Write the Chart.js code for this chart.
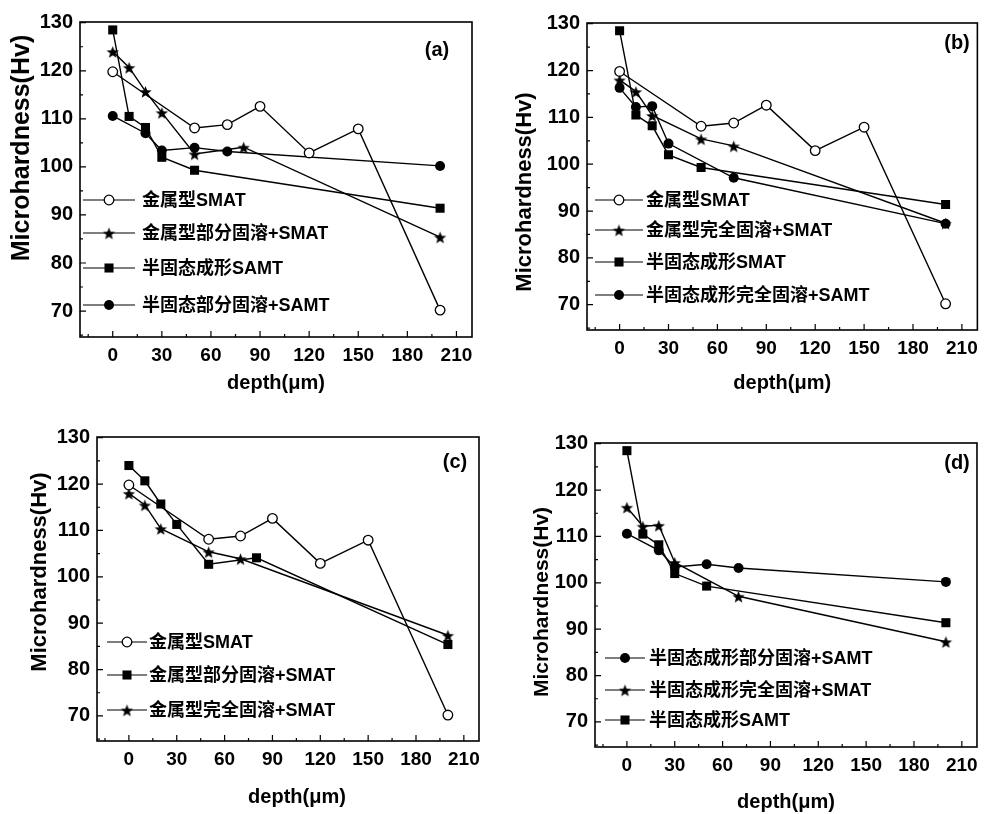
<!DOCTYPE html>
<html>
<head>
<meta charset="utf-8">
<script src="https://cdn.jsdelivr.net/npm/chart.js@4.4.1/dist/chart.umd.min.js"></script>
<style>
  body { margin: 0; background: #fff; }
  .panel { position: absolute; }
</style>
</head>
<body>
<div class="panel" style="left:0;top:0"><canvas id="chartA" width="490" height="410"></canvas></div>
<div class="panel" style="left:490px;top:0"><canvas id="chartB" width="495" height="410"></canvas></div>
<div class="panel" style="left:0;top:410px"><canvas id="chartC" width="490" height="404"></canvas></div>
<div class="panel" style="left:490px;top:410px"><canvas id="chartD" width="495" height="404"></canvas></div>
<script>
// depth (um) and microhardness (Hv) series
var depthSMAT = [0, 50, 70, 90, 120, 150, 200];
var hvSMAT = [119.8, 108.1, 108.8, 112.6, 102.9, 107.9, 70.2];

var depthPartSMAT = [0, 10, 20, 30, 50, 80, 200];
var hvPartSMAT = [124.0, 120.7, 115.7, 111.3, 102.7, 104.1, 85.4];

var depthFullSMAT = [0, 10, 20, 50, 70, 200];
var hvFullSMAT = [118.0, 115.5, 110.4, 105.4, 103.9, 87.4];

var depthSemi = [0, 10, 20, 30, 50, 200];
var hvSemi = [128.5, 110.5, 108.2, 102.0, 99.3, 91.4];

var depthSemiPart = [0, 20, 30, 50, 70, 200];
var hvSemiPart = [110.6, 107.0, 103.4, 104.0, 103.2, 100.2];

var depthSemiFull = [0, 10, 20, 30, 70, 200];
var hvSemiFull = [116.3, 112.2, 112.4, 104.4, 97.1, 87.3];

var xTickLabels = [0, 30, 60, 90, 120, 150, 180, 210];
var yTickLabels = [70, 80, 90, 100, 110, 120, 130];

var FONT = '"Liberation Sans", "Noto Sans CJK SC", sans-serif';

function makeStar(r) {
    var c = document.createElement('canvas');
    var s = Math.ceil(r * 2) + 2;
    c.width = s; c.height = s;
    var g = c.getContext('2d');
    g.beginPath();
    for (var i = 0; i < 10; i++) {
        var rad = i % 2 ? r * 0.42 : r;
        var a = -Math.PI / 2 + i * Math.PI / 5;
        g.lineTo(s / 2 + rad * Math.cos(a), s / 2 + 1 + rad * Math.sin(a));
    }
    g.closePath();
    g.fillStyle = '#000';
    g.fill();
    return c;
}
var starImg = makeStar(6.5);

var markers = {
    open: {pointStyle: 'circle', pointRadius: 4.8, pointBackgroundColor: '#fff', pointBorderWidth: 1.3},
    dot: {pointStyle: 'circle', pointRadius: 5, pointBackgroundColor: '#000', pointBorderWidth: 0},
    square: {pointStyle: 'rect', pointRadius: 6.4, pointBackgroundColor: '#000', pointBorderWidth: 0},
    star: {pointStyle: starImg, pointRadius: 6, pointBackgroundColor: '#000', pointBorderWidth: 0}
};

function series(label, xs, ys, mark) {
    var m = markers[mark];
    var pts = xs.map(function (d, i) { return {x: d, y: ys[i]}; });
    return Object.assign({
        label: label,
        data: pts,
        borderColor: '#000',
        pointBorderColor: '#000',
        borderWidth: 1.4,
        tension: 0,
        fill: false
    }, m);
}

// frame, inward ticks, titles and in-plot legend
var decorPlugin = {
    id: 'decor',
    afterDraw: function (chart, args, o) {
        var ctx = chart.ctx, a = chart.chartArea;
        var xs = chart.scales.x, ys = chart.scales.y;
        ctx.save();
        ctx.strokeStyle = '#000';
        ctx.lineWidth = 1.6;
        ctx.strokeRect(a.left, a.top, a.right - a.left, a.bottom - a.top);
        ctx.lineWidth = 1.2;
        ctx.beginPath();
        xs.ticks.forEach(function (t) {
            if (t.value % 15 !== 0) return;
            var px = xs.getPixelForValue(t.value);
            var len = t.value % 30 === 0 ? 6 : 3;
            ctx.moveTo(px, a.bottom); ctx.lineTo(px, a.bottom - len);
        });
        ys.ticks.forEach(function (t) {
            if (t.value % 5 !== 0) return;
            var py = ys.getPixelForValue(t.value);
            var len = t.value % 10 === 0 ? 6 : 3;
            ctx.moveTo(a.left, py); ctx.lineTo(a.left + len, py);
        });
        ctx.stroke();

        ctx.fillStyle = '#000';
        ctx.textAlign = 'center';
        ctx.textBaseline = 'middle';
        ctx.font = 'bold 20px ' + FONT;
        ctx.fillText(o.tag, o.tagX, o.tagY);
        ctx.fillText('depth(\u03bcm)', o.xTitleX || (a.left + a.right) / 2, o.xTitleY);
        ctx.save();
        ctx.translate(o.yTitleX, o.yTitleY);
        ctx.rotate(-Math.PI / 2);
        ctx.font = 'bold ' + o.yTitleSize + 'px ' + FONT;
        ctx.fillText('Microhardness(Hv)', 0, 0);
        ctx.restore();

        // legend rows
        var L = o.legend;
        ctx.textAlign = 'left';
        ctx.font = 'bold 18px ' + FONT;
        chart.data.datasets.forEach(function (ds, i) {
            var y = L.rows[i];
            ctx.strokeStyle = '#000';
            ctx.lineWidth = 1.2;
            ctx.beginPath();
            ctx.moveTo(L.x0, y); ctx.lineTo(L.x0 + L.w, y);
            ctx.stroke();
            ctx.fillStyle = ds.pointBackgroundColor;
            ctx.strokeStyle = '#000';
            ctx.lineWidth = ds.pointBorderWidth;
            Chart.helpers.drawPoint(ctx, {
                pointStyle: ds.pointStyle,
                radius: ds.pointRadius,
                borderWidth: ds.pointBorderWidth,
                rotation: 0
            }, L.x0 + L.w / 2, y);
            ctx.fillStyle = '#000';
            ctx.fillText(ds.label, L.x0 + L.w + L.gap, y + 1);
        });
        ctx.restore();
    }
};

function buildPanel(id, datasets, box, decor) {
    var ctx = document.getElementById(id);
    var config = {
        type: 'line',
        data: {datasets: datasets},
        options: {
            responsive: false,
            animation: false,
            devicePixelRatio: 1,
            layout: {padding: {top: box.top, right: box.right, left: 0, bottom: 0}},
            plugins: {legend: {display: false}, tooltip: {enabled: false}, decor: decor},
            scales: {
                x: {
                    type: 'linear', min: -20, max: 219.5,
                    grid: {display: false, drawTicks: false},
                    border: {display: false},
                    afterFit: function (s) { s.height = box.xh; },
                    ticks: {
                        stepSize: 15, includeBounds: false, autoSkip: false, maxRotation: 0,
                        padding: 7, color: '#000',
                        font: {family: FONT, size: 19, weight: 'bold'},
                        callback: function (v) { return xTickLabels.indexOf(v) >= 0 ? String(v) : ''; }
                    }
                },
                y: {
                    type: 'linear', min: 64.6, max: 130.15,
                    grid: {display: false, drawTicks: false},
                    border: {display: false},
                    afterFit: function (s) { s.width = box.yw; },
                    ticks: {
                        stepSize: 5, includeBounds: false, autoSkip: false,
                        padding: 7, color: '#000',
                        font: {family: FONT, size: 20, weight: 'bold'},
                        callback: function (v) { return yTickLabels.indexOf(v) >= 0 ? String(v) : ''; }
                    }
                }
            }
        },
        plugins: [decorPlugin]
    };
    return new Chart(ctx, config);
}

buildPanel('chartA', [
    series('金属型SMAT', depthSMAT, hvSMAT, 'open'),
    series('金属型部分固溶+SMAT', depthPartSMAT, hvPartSMAT, 'star'),
    series('半固态成形SAMT', depthSemi, hvSemi, 'square'),
    series('半固态部分固溶+SAMT', depthSemiPart, hvSemiPart, 'dot')
], {top: 22, right: 18, yw: 80, xh: 73}, {
    tag: '(a)', tagX: 437, tagY: 50,
    xTitleY: 383, yTitleX: 22, yTitleY: 148, yTitleSize: 25,
    legend: {x0: 83, w: 52, gap: 7, rows: [200, 233, 268, 305]}
});

buildPanel('chartB', [
    series('金属型SMAT', depthSMAT, hvSMAT, 'open'),
    series('金属型完全固溶+SMAT', depthFullSMAT, hvFullSMAT, 'star'),
    series('半固态成形SMAT', depthSemi, hvSemi, 'square'),
    series('半固态成形完全固溶+SAMT', depthSemiFull, hvSemiFull, 'dot')
], {top: 23, right: 5, yw: 97, xh: 80}, {
    tag: '(b)', tagX: 467, tagY: 43,
    xTitleY: 383, yTitleX: 35, yTitleY: 192, yTitleSize: 22,
    legend: {x0: 105, w: 48, gap: 3, rows: [200, 230, 262, 295]}
});

buildPanel('chartC', [
    series('金属型SMAT', depthSMAT, hvSMAT, 'open'),
    series('金属型部分固溶+SMAT', depthPartSMAT, hvPartSMAT, 'square'),
    series('金属型完全固溶+SMAT', depthFullSMAT, hvFullSMAT, 'star')
], {top: 27, right: 11, yw: 97, xh: 73}, {
    tag: '(c)', tagX: 455, tagY: 52,
    xTitleX: 297, xTitleY: 387, yTitleX: 40, yTitleY: 162, yTitleSize: 22,
    legend: {x0: 107, w: 40, gap: 2, rows: [232, 265, 300]}
});

buildPanel('chartD', [
    series('半固态成形部分固溶+SAMT', depthSemiPart, hvSemiPart, 'dot'),
    series('半固态成形完全固溶+SMAT', depthSemiFull, hvSemiFull, 'star'),
    series('半固态成形SAMT', depthSemi, hvSemi, 'square')
], {top: 33, right: 8, yw: 105, xh: 67}, {
    tag: '(d)', tagX: 467, tagY: 53,
    xTitleY: 392, yTitleX: 52, yTitleY: 192, yTitleSize: 21,
    legend: {x0: 115, w: 40, gap: 4, rows: [248, 280, 310]}
});
</script>
</body>
</html>
